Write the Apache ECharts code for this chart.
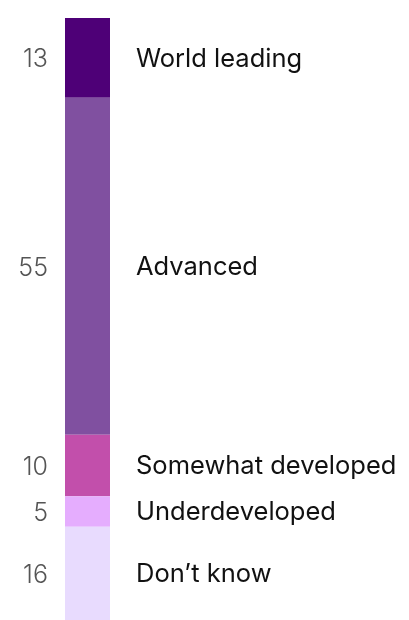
<!DOCTYPE html>
<html><head><meta charset="utf-8">
<script src="https://cdn.jsdelivr.net/npm/echarts@6/dist/echarts.min.js"></script>
<style>html,body{margin:0;padding:0;background:#fff}#c{width:409px;height:620px}</style>
</head><body><div id="c"></div>
<script>
const categories = ['World leading', 'Advanced', 'Somewhat developed', 'Underdeveloped', "Don\u2019t know"];
const values = [13, 55, 10, 5, 16];
const colors = ['#4E0077', '#8050A0', '#C24FAB', '#E5ADFE', '#E8DBFE'];

const chart = echarts.init(document.getElementById('c'));
const series = [];
categories.forEach((name, i) => {
  series.push({
    type: 'bar', name, stack: 'a', xAxisIndex: 0, barWidth: '100%',
    data: [values[i]], itemStyle: {color: colors[i]},
    label: {show: true, position: 'right', distance: 26, formatter: name, offset: [0, 1],
      color: '#111', fontFamily: 'Inter', fontSize: 25.5}
  });
  series.push({
    type: 'bar', name: name + '_v', stack: 'b', xAxisIndex: 1, barWidth: '100%',
    data: [values[i]], itemStyle: {color: 'rgba(0,0,0,0)'}, silent: true,
    label: {show: true, position: 'left', distance: 17, formatter: String(values[i]), offset: [0, 2],
      color: '#555', fontFamily: 'Inter', fontWeight: 300, fontSize: 25}
  });
});
chart.setOption({
  animation: false,
  grid: {left: 65, right: 299, top: 18, bottom: 0},
  xAxis: [
    {type: 'category', data: ['All'], show: false},
    {type: 'category', data: ['All'], show: false}
  ],
  yAxis: {type: 'value', inverse: true, min: 0, max: 98.2, show: false},
  series
});
</script></body></html>
